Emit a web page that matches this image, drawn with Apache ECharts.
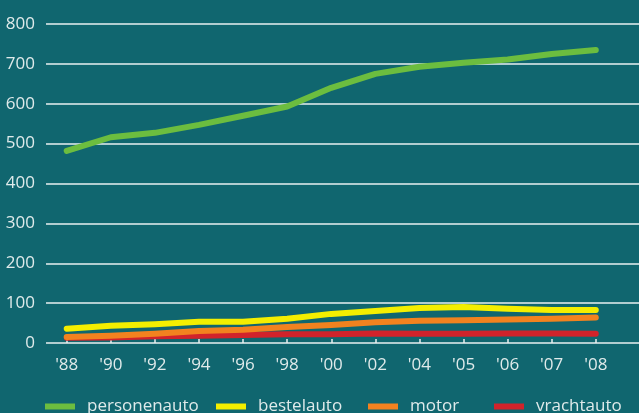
<!DOCTYPE html>
<html>
<head>
<meta charset="utf-8">
<script src="https://cdn.jsdelivr.net/npm/echarts@6/dist/echarts.min.js"></script>
<style>
html,body{margin:0;padding:0;background:#10666f;}
#c{width:639px;height:413px;}
</style>
</head>
<body>
<div id="c"></div>
<script>
const categories = ["'88","'90","'92","'94","'96","'98","'00","'02","'04","'05","'06","'07","'08"];
const personenauto = [482, 516, 527, 547, 570, 593, 640, 675, 693, 703, 711, 725, 735];
const bestelauto   = [36, 43, 47, 53, 53, 61, 73, 80, 88, 90, 86, 83, 83];
const motor        = [15, 18, 23, 30, 33, 40, 45, 52, 56, 57, 59, 61, 64];
const vrachtauto   = [13, 14, 17, 18, 20, 22, 22, 24, 23, 23, 24, 24, 23];
const yTicks = [0, 100, 200, 300, 400, 500, 600, 700, 800];

const seriesNames = ['personenauto', 'bestelauto', 'motor', 'vrachtauto'];
const seriesData = [personenauto, bestelauto, motor, vrachtauto];
const colors = ['#6cbd3f', '#f4ee00', '#f2821f', '#d1232b'];
const zs = [5, 4, 3, 2];
const legendLeft = [45, 216, 368, 494];
const FONT = '"Open Sans", sans-serif';
const TXT = '#dfeaea';

const chart = echarts.init(document.getElementById('c'));
chart.setOption({
  backgroundColor: '#10666f',
  animation: false,
  grid: { left: 46, right: 0, top: 24, bottom: 70, containLabel: false },
  xAxis: {
    type: 'value',
    min: -0.47,
    max: 12.98,
    axisLine: { show: false },
    splitLine: { show: false },
    axisTick: { show: true, inside: true, length: 4, customValues: categories.map((c, i) => i),
      lineStyle: { color: '#e8f0f0', width: 1.5 } },
    axisLabel: { customValues: categories.map((c, i) => i), formatter: v => categories[Math.round(v)],
      color: TXT, fontFamily: FONT, fontSize: 17, margin: 14 }
  },
  yAxis: {
    type: 'value',
    min: 0, max: 800, interval: 100,
    axisLine: { show: false },
    axisTick: { show: false },
    axisLabel: { color: TXT, fontFamily: FONT, fontSize: 17, margin: 11,
      formatter: v => yTicks.includes(v) ? String(v) : '' },
    splitLine: { lineStyle: { color: '#e8f0f0', width: 1.5 } }
  },
  legend: seriesNames.map((n, i) => ({
    data: [n], left: legendLeft[i], top: 398, padding: 0, icon: 'rect', itemWidth: 30, itemHeight: 6,
    textStyle: { color: TXT, fontFamily: FONT, fontSize: 17, padding: [0, 0, 0, 7] }
  })),
  series: seriesNames.map((n, i) => ({
    name: n, type: 'line', showSymbol: false, symbol: 'none', z: zs[i],
    color: colors[i],
    lineStyle: { width: 6, color: colors[i], cap: 'round', join: 'round' },
    data: seriesData[i].map((v, j) => [j, v])
  }))
});
</script>
</body>
</html>
